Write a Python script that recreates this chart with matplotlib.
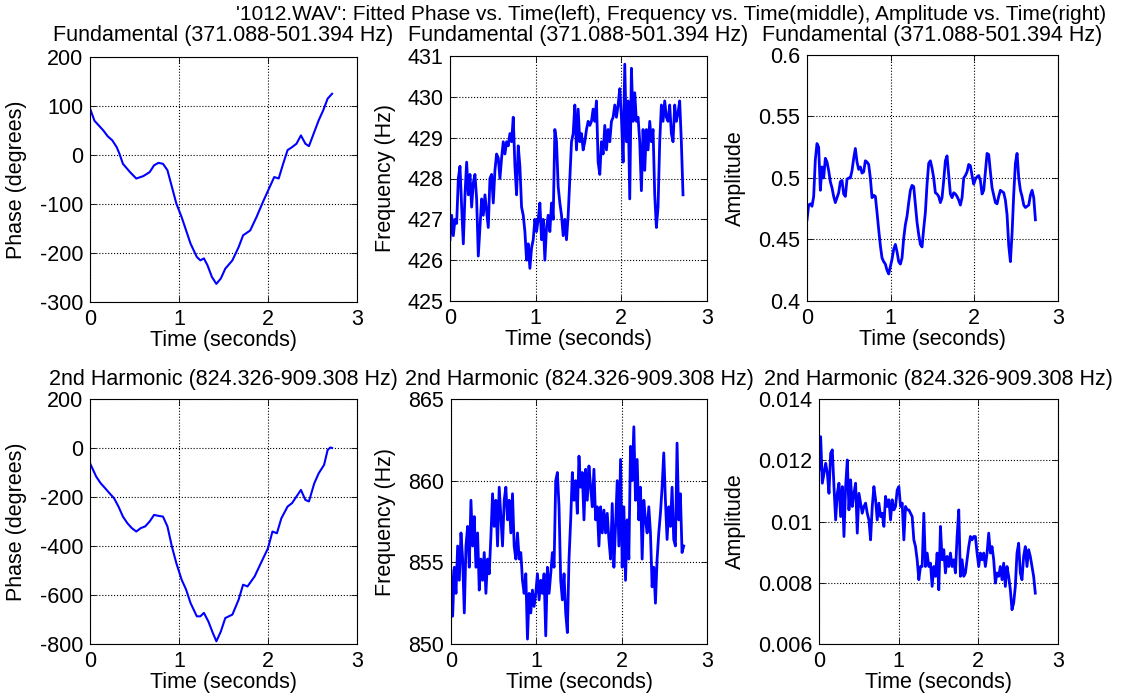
import numpy as np
import matplotlib
matplotlib.use("Agg")
import matplotlib.pyplot as plt
from matplotlib.ticker import FormatStrFormatter, MultipleLocator

plt.rcParams['font.family'] = ['Liberation Sans', 'DejaVu Sans']
FS = 15.5

# ---------------- data ----------------
main_title = "'1012.WAV': Fitted Phase vs. Time(left), Frequency vs. Time(middle), Amplitude vs. Time(right)"
fund_title = "Fundamental (371.088-501.394 Hz)"
harm_title = "2nd Harmonic (824.326-909.308 Hz)"

fund_phase_t = [0, 0.05, 0.10, 0.15, 0.20, 0.25, 0.30, 0.33, 0.37, 0.45, 0.52, 0.60, 0.67, 0.72, 0.77,
                0.82, 0.87, 0.92, 0.97, 1.03, 1.08, 1.13, 1.20, 1.24, 1.28, 1.32, 1.37, 1.42, 1.47, 1.52,
                1.60, 1.67, 1.72, 1.80, 1.87, 1.95, 2.02, 2.07, 2.12, 2.17, 2.22, 2.27, 2.32, 2.37, 2.42,
                2.46, 2.52, 2.57, 2.62, 2.67, 2.72]
fund_phase = [95, 70, 60, 50, 38, 30, 16, 3, -18, -35, -48, -43, -35, -21, -16,
              -18, -31, -65, -99, -127, -154, -181, -208, -215, -211, -225, -249, -263, -252, -232,
              -215, -188, -164, -154, -127, -93, -65, -45, -48, -18, 10, 16, 23, 40, 23,
              18, 47, 71, 91, 115, 125]

harm_phase_t = [0, 0.07, 0.12, 0.17, 0.22, 0.27, 0.32, 0.37, 0.42, 0.47, 0.52, 0.57, 0.62, 0.67, 0.72,
                0.77, 0.82, 0.87, 0.92, 0.97, 1.03, 1.08, 1.13, 1.20, 1.24, 1.28, 1.33, 1.38, 1.42, 1.47,
                1.52, 1.60, 1.67, 1.72, 1.77, 1.85, 1.92, 2.00, 2.05, 2.10, 2.15, 2.22, 2.27, 2.32, 2.37,
                2.42, 2.46, 2.52, 2.57, 2.63, 2.67, 2.70, 2.72]
harm_phase = [-62, -117, -144, -164, -185, -205, -239, -280, -307, -327, -341, -327, -320, -300, -273,
              -277, -280, -320, -402, -470, -538, -578, -633, -687, -687, -673, -708, -755, -789, -749,
              -694, -680, -619, -558, -565, -524, -470, -409, -341, -348, -287, -239, -225, -198, -171,
              -212, -218, -144, -103, -69, -8, 2, 0]

# frequency / amplitude tracks are sampled on a uniform time grid
fund_freq = [426.5, 427.1, 426.6, 427.0, 426.9, 428.0, 428.3, 427.3, 426.4, 427.6,
             428.4, 427.6, 428.1, 427.3, 427.9, 428.1, 427.5, 426.1, 426.8, 427.5,
             427.1, 427.6, 427.2, 426.8, 428.0, 428.1, 427.4, 428.2, 428.6, 428.5,
             428.0, 428.5, 428.9, 428.6, 428.9, 428.8, 429.1, 428.9, 429.5, 428.3,
             427.6, 428.8, 428.3, 427.3, 427.1, 426.7, 426.0, 426.4, 425.8, 426.3,
             426.5, 427.0, 426.7, 427.0, 427.4, 426.5, 427.0, 426.0, 426.8, 427.1,
             426.7, 427.4, 427.0, 429.2, 428.9, 427.8, 427.4, 427.1, 426.6, 427.0,
             426.5, 427.1, 428.0, 428.9, 429.1, 429.8, 428.7, 429.7, 428.9, 429.1,
             428.7, 428.9, 429.2, 429.4, 429.3, 429.4, 429.7, 429.4, 429.9, 428.4,
             428.1, 428.9, 428.6, 429.3, 428.7, 429.2, 428.9, 429.4, 429.5, 429.8,
             429.5, 429.8, 430.2, 429.5, 428.4, 430.8, 428.9, 429.9, 427.5, 430.7,
             429.4, 430.1, 429.4, 429.5, 428.9, 427.7, 429.2, 428.2, 429.2, 428.7,
             429.4, 428.9, 429.2, 427.6, 426.8, 427.3, 428.9, 429.8, 429.4, 429.9,
             429.5, 429.4, 429.8, 429.1, 428.9, 429.8, 429.4, 429.6, 429.9, 428.9,
             427.6]
fund_freq_tend = 2.72

fund_amp = [0.466, 0.478, 0.479, 0.477, 0.485, 0.515, 0.528, 0.525, 0.490, 0.509,
            0.500, 0.516, 0.513, 0.506, 0.497, 0.492, 0.485, 0.480, 0.484, 0.488,
            0.497, 0.498, 0.487, 0.485, 0.499, 0.500, 0.500, 0.506, 0.516, 0.524,
            0.513, 0.507, 0.509, 0.504, 0.505, 0.514, 0.513, 0.511, 0.500, 0.484,
            0.486, 0.485, 0.472, 0.458, 0.445, 0.435, 0.432, 0.430, 0.425, 0.422,
            0.428, 0.434, 0.442, 0.446, 0.440, 0.432, 0.430, 0.435, 0.451, 0.462,
            0.469, 0.480, 0.490, 0.494, 0.493, 0.478, 0.464, 0.454, 0.446, 0.444,
            0.459, 0.472, 0.495, 0.512, 0.514, 0.508, 0.500, 0.488, 0.487, 0.485,
            0.480, 0.484, 0.498, 0.514, 0.518, 0.502, 0.487, 0.484, 0.488, 0.487,
            0.485, 0.482, 0.478, 0.484, 0.500, 0.502, 0.505, 0.511, 0.510, 0.502,
            0.495, 0.499, 0.501, 0.502, 0.498, 0.487, 0.490, 0.505, 0.520, 0.519,
            0.505, 0.492, 0.486, 0.480, 0.479, 0.485, 0.490, 0.489, 0.488, 0.482,
            0.470, 0.445, 0.432, 0.455, 0.487, 0.512, 0.520, 0.500, 0.490, 0.485,
            0.478, 0.476, 0.477, 0.478, 0.486, 0.490, 0.484, 0.466]
fund_amp_tend = 2.73

harm_freq = [854.5, 851.7, 854.7, 853.1, 856.0, 853.9, 856.8, 855.2, 851.9, 856.0,
             857.2, 854.7, 858.8, 856.0, 857.8, 854.7, 856.8, 853.3, 855.2, 853.9,
             855.6, 853.1, 855.2, 854.3, 856.6, 859.2, 857.2, 858.8, 856.0, 859.6,
             857.8, 856.0, 858.8, 859.6, 857.6, 858.8, 856.8, 859.2, 856.0, 855.2,
             856.8, 855.2, 855.6, 853.9, 853.1, 854.3, 850.3, 853.1, 851.9, 853.3,
             852.3, 853.1, 854.3, 852.7, 853.9, 853.1, 854.3, 850.5, 854.7, 853.1,
             854.3, 855.6, 854.7, 860.0, 860.5, 858.4, 853.9, 852.7, 854.3, 851.9,
             850.7, 855.2, 857.6, 860.5, 858.8, 860.0, 858.0, 861.5, 859.6, 860.5,
             857.6, 860.7, 858.8, 860.9, 859.6, 858.4, 860.7, 857.6, 858.4, 856.0,
             858.4, 856.8, 858.2, 856.8, 858.0, 856.4, 855.2, 858.6, 854.7, 857.2,
             860.0, 856.0, 861.3, 854.7, 858.4, 853.9, 857.6, 855.2, 862.1, 860.0,
             863.3, 858.8, 861.3, 857.6, 859.6, 855.2, 858.8, 857.6, 856.8, 858.4,
             856.8, 853.5, 854.7, 852.5, 855.2, 856.8, 858.0, 859.6, 861.7, 858.8,
             856.4, 858.4, 857.2, 859.6, 856.4, 856.0, 862.3, 857.6, 859.2, 855.6,
             856.0]
harm_freq_tend = 2.727

harm_amp = [0.01168, 0.01277, 0.01125, 0.01158, 0.01190, 0.01158, 0.01092, 0.01223, 0.01234, 0.01114,
            0.01005, 0.01092, 0.01125, 0.01016, 0.01114, 0.00951, 0.01114, 0.01201, 0.01038, 0.01136,
            0.01049, 0.01092, 0.01125, 0.00962, 0.01092, 0.01060, 0.01027, 0.01049, 0.01060, 0.01027,
            0.01005, 0.00940, 0.01049, 0.01114, 0.01071, 0.01005, 0.01060, 0.01016, 0.01027, 0.00984,
            0.01082, 0.01049, 0.01071, 0.01005, 0.01071, 0.01038, 0.01049, 0.01103, 0.01114, 0.01049,
            0.01060, 0.00940, 0.01049, 0.01038, 0.01038, 0.01027, 0.01016, 0.00940, 0.00918, 0.00875,
            0.00810, 0.00853, 0.00853, 0.01027, 0.00853, 0.00897, 0.00853, 0.00864, 0.00788, 0.00853,
            0.00821, 0.00897, 0.00777, 0.00984, 0.00875, 0.00908, 0.00832, 0.00886, 0.00853, 0.00897,
            0.00853, 0.00875, 0.00832, 0.00951, 0.01038, 0.00821, 0.00875, 0.00821, 0.00832, 0.00875,
            0.00918, 0.00951, 0.00940, 0.00951, 0.00951, 0.00897, 0.00853, 0.00897, 0.00875, 0.00897,
            0.00853, 0.00897, 0.00962, 0.00897, 0.00918, 0.00875, 0.00799, 0.00832, 0.00821, 0.00853,
            0.00810, 0.00864, 0.00788, 0.00853, 0.00821, 0.00777, 0.00712, 0.00734, 0.00788, 0.00897,
            0.00929, 0.00832, 0.00810, 0.00886, 0.00918, 0.00853, 0.00908, 0.00886, 0.00853, 0.00821,
            0.00766]
harm_amp_tend = 2.715

# ---------------- figure ----------------
W, H = 1123, 696
fig = plt.figure(figsize=(W / 100, H / 100), dpi=100)


def px_rect(l, t, r, b):                                   # pixel box -> figure fraction
    return [l / W, 1 - b / H, (r - l) / W, (b - t) / H]


def setup(ax, ylim, ystep, ylabel, ylab_px, left_px, right_px, top_px, bottom_px):
    ax.set_xlim(0, 3)
    ax.set_ylim(*ylim)
    ax.xaxis.set_major_locator(MultipleLocator(1))
    ax.yaxis.set_major_locator(MultipleLocator(ystep))
    ax.yaxis.set_major_formatter(FormatStrFormatter('%g'))
    ax.grid(True, color='k', linestyle=':', linewidth=0.8)
    ax.tick_params(direction='in', top=True, right=True, length=4.5, width=0.6,
                   labelsize=FS, pad=5)
    for s in ax.spines.values():
        s.set_linewidth(0.8)
    ax.set_xlabel('Time (seconds)', fontsize=FS, va='center')
    ax.xaxis.set_label_coords(0.5, -38.5 / (bottom_px - top_px))
    ax.set_ylabel(ylabel, fontsize=FS, va='center')
    ax.yaxis.set_label_coords((ylab_px - left_px) / (right_px - left_px), 0.5)


# top row: fundamental
ax1 = fig.add_axes(px_rect(90, 57, 357, 302))
ax1.plot(fund_phase_t, fund_phase, color='#0000ff', lw=1.5)
setup(ax1, (-300, 200), 100, 'Phase (degrees)', 17, 90, 357, 57, 302)

ax2 = fig.add_axes(px_rect(450, 56, 707, 301))
ax2.plot(np.linspace(0, fund_freq_tend, len(fund_freq)), fund_freq, color='#0000ff', lw=2)
setup(ax2, (425, 431), 1, 'Frequency (Hz)', 385, 450, 707, 56, 301)

ax3 = fig.add_axes(px_rect(807, 55, 1058, 301))
ax3.plot(np.linspace(0, fund_amp_tend, len(fund_amp)), fund_amp, color='#0000ff', lw=2)
setup(ax3, (0.4, 0.6), 0.05, 'Amplitude', 735, 807, 1058, 55, 301)

# bottom row: 2nd harmonic
ax4 = fig.add_axes(px_rect(90, 399, 357, 644))
ax4.plot(harm_phase_t, harm_phase, color='#0000ff', lw=1.5)
setup(ax4, (-800, 200), 200, 'Phase (degrees)', 17, 90, 357, 399, 644)

ax5 = fig.add_axes(px_rect(451, 399, 707, 644))
ax5.plot(np.linspace(0, harm_freq_tend, len(harm_freq)), harm_freq, color='#0000ff', lw=2)
setup(ax5, (850, 865), 5, 'Frequency (Hz)', 385, 451, 707, 399, 644)

ax6 = fig.add_axes(px_rect(819, 399, 1058, 644))
ax6.plot(np.linspace(0, harm_amp_tend, len(harm_amp)), harm_amp, color='#0000ff', lw=2)
setup(ax6, (0.006, 0.014), 0.002, 'Amplitude', 735, 819, 1058, 399, 644)

# titles
fig.text(671 / W, 1 - 14.5 / H, main_title, fontsize=15, ha='center', va='center')
for cx in [223.5, 578.5, 932.5]:
    fig.text(cx / W, 1 - 35 / H, fund_title, fontsize=FS, ha='center', va='center')
for cx in [223.5, 579, 938.5]:
    fig.text(cx / W, 1 - 379 / H, harm_title, fontsize=FS, ha='center', va='center')

fig.savefig('out.png', dpi=100, facecolor='white')
